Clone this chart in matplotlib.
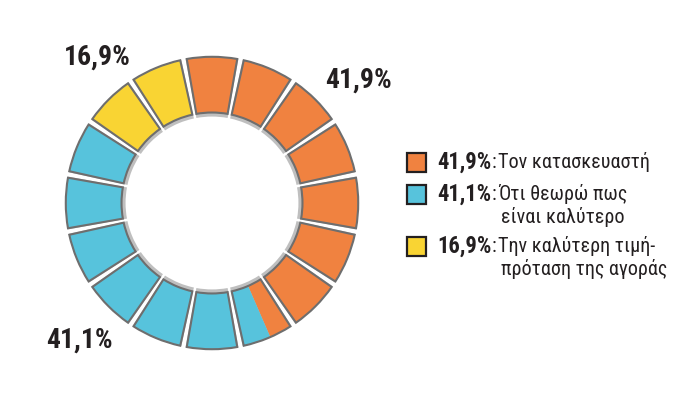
import numpy as np
import matplotlib
matplotlib.use("Agg")
import matplotlib.pyplot as plt

# survey answers
labels = ["Τον κατασκευαστή", "Ότι θεωρώ πως\nείναι καλύτερο", "Την καλύτερη τιμή-\nπρόταση της αγοράς"]
shares = ["41,9%", "41,1%", "16,9%"]
# how many of the 16 ring blocks each answer fills (as drawn in the graphic)
blocks = [7.45, 6.55, 2.0]
colors = ["#F08240", "#57C3DC", "#F9D433"]

FONT = ["Roboto Condensed", "DejaVu Sans"]
INK = "#231F20"

W, H = 700, 393
fig = plt.figure(figsize=(W / 100, H / 100), dpi=100)
fig.patch.set_facecolor("white")

cx, cy, rpx = 212, 203, 152
ax = fig.add_axes([(cx - rpx) / W, (H - cy - rpx) / H, 2 * rpx / W, 2 * rpx / H], projection="polar")
ax.set_theta_zero_location("N")
ax.set_theta_direction(-1)
ax.set_ylim(0, 1.05)
ax.axis("off")

n_seg = 16
inner, outer = 0.625, 1.01
step = 2 * np.pi / n_seg
gap = np.deg2rad(2.6)
seg_w = step - gap
edges = np.cumsum([0] + blocks)

for i in range(n_seg):
    start = i * step - step / 2 + gap / 2
    # soft shadow under each block
    ax.bar(start - 0.008, outer - inner + 0.03, width=seg_w + 0.016, bottom=inner - 0.028,
           align="edge", color="#000000", alpha=0.25, linewidth=0, zorder=1)
    for k in range(len(blocks)):
        lo, hi = max(i, edges[k]), min(i + 1, edges[k + 1])
        if hi > lo:
            ax.bar(start + (lo - i) * seg_w, outer - inner, width=(hi - lo) * seg_w,
                   bottom=inner, align="edge", color=colors[k], linewidth=0, zorder=2)
    ax.bar(start, outer - inner, width=seg_w, bottom=inner, align="edge",
           facecolor="none", edgecolor="#6E6E6E", linewidth=1.5, zorder=3)

# percentage labels around the ring
big = dict(fontsize=20, fontweight="bold", family=FONT, color=INK, ha="center", va="center")
fig.text(97 / W, 1 - 57 / H, shares[2], **big)
fig.text(358 / W, 1 - 80 / H, shares[0], **big)
fig.text(79 / W, 1 - 340 / H, shares[1], **big)

# legend
rows_y = [162, 194, 246]
line_h = 23
for k in range(len(labels)):
    y = 1 - rows_y[k] / H
    fig.patches.append(plt.Rectangle((407 / W, y - 9.5 / H), 19 / W, 19 / H,
                                     transform=fig.transFigure, facecolor=colors[k],
                                     edgecolor=INK, linewidth=1.6))
    fig.text(437 / W, y, shares[k], fontsize=16.3, fontweight="bold", family=FONT,
             color=INK, ha="left", va="center")
    fig.text(492 / W, y, ":", fontsize=14.5, family=FONT, color=INK, ha="left", va="center")
    for j, line in enumerate(labels[k].split("\n")):
        fig.text((498 + 3 * j) / W, y - j * line_h / H, line, fontsize=14.5, family=FONT,
                 color=INK, ha="left", va="center")

fig.savefig("out.png", dpi=100, facecolor="white")
